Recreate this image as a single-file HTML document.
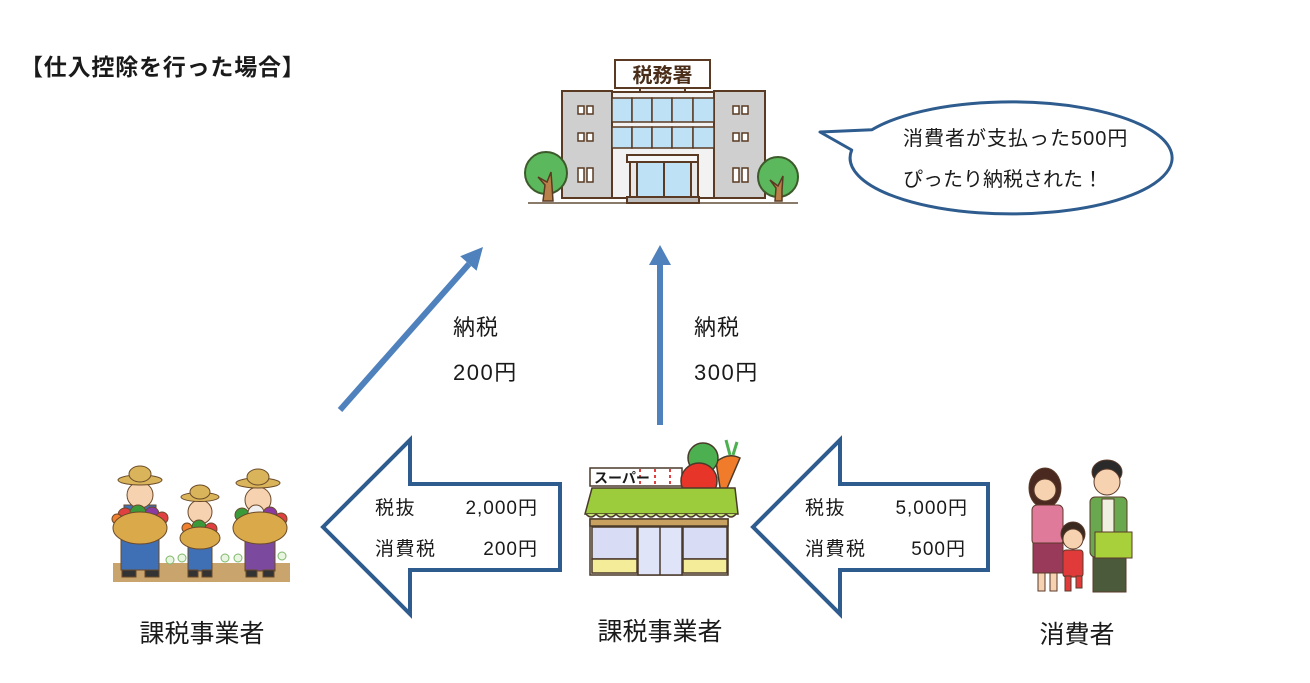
<!DOCTYPE html>
<html><head><meta charset="utf-8">
<style>
html,body{margin:0;padding:0;background:#fff;}
svg{display:block;}
text{font-family:"Liberation Sans","Noto Sans CJK JP",sans-serif;fill:#1a1a1a;}
</style></head>
<body>
<svg width="1310" height="683" viewBox="0 0 1310 683" xmlns="http://www.w3.org/2000/svg">
<rect width="1310" height="683" fill="#fff"/>

<!-- Title -->
<text x="20" y="75" font-size="23" font-weight="bold" letter-spacing="0.8">【仕入控除を行った場合】</text>

<!-- ===== Tax office ===== -->
<g stroke="#5a3a22" stroke-width="2">
  <line x1="528" y1="203" x2="798" y2="203" stroke="#8a7a6a"/>
  <!-- sign -->
  <rect x="615" y="60" width="95" height="28" fill="#fff"/>
  <rect x="640" y="88" width="45" height="4" fill="#eee"/>
  <!-- towers -->
  <rect x="562" y="91" width="50" height="107" fill="#cfcfcf"/>
  <rect x="714" y="91" width="51" height="107" fill="#cfcfcf"/>
  <!-- center -->
  <rect x="612" y="92" width="102" height="106" fill="#f2f2f2"/>
  <g fill="#bfe1f6" stroke-width="1.5">
    <rect x="612" y="98" width="20" height="24"/><rect x="632" y="98" width="20" height="24"/><rect x="652" y="98" width="20" height="24"/><rect x="672" y="98" width="21" height="24"/><rect x="693" y="98" width="21" height="24"/>
    <rect x="612" y="127" width="20" height="21"/><rect x="632" y="127" width="20" height="21"/><rect x="652" y="127" width="20" height="21"/><rect x="672" y="127" width="21" height="21"/><rect x="693" y="127" width="21" height="21"/>
  </g>
  <rect x="627" y="155" width="71" height="7" fill="#f7f7f7"/>
  <rect x="630" y="162" width="7" height="35" fill="#e8e8e8"/>
  <rect x="691" y="162" width="7" height="35" fill="#e8e8e8"/>
  <rect x="637" y="162" width="54" height="35" fill="#bfe1f6"/>
  <line x1="664" y1="162" x2="664" y2="197"/>
  <rect x="627" y="197" width="72" height="6" fill="#bdbdbd"/>
  <!-- tower windows -->
  <g fill="#fff" stroke-width="1.5">
    <rect x="578" y="106" width="6" height="8"/><rect x="587" y="106" width="6" height="8"/>
    <rect x="578" y="133" width="6" height="8"/><rect x="587" y="133" width="6" height="8"/>
    <rect x="578" y="168" width="6" height="14"/><rect x="587" y="168" width="6" height="14"/>
    <rect x="733" y="106" width="6" height="8"/><rect x="742" y="106" width="6" height="8"/>
    <rect x="733" y="133" width="6" height="8"/><rect x="742" y="133" width="6" height="8"/>
    <rect x="733" y="168" width="6" height="14"/><rect x="742" y="168" width="6" height="14"/>
  </g>
  <!-- trees (in front) -->
  <circle cx="546" cy="173" r="21" fill="#5cb85c" stroke="#3d5a2a"/>
  <path d="M543 201 L545 185 L538 177 L547 182 L551 172 L552 186 L553 201 Z" fill="#b9804a" stroke-width="1.5"/>
  <circle cx="778" cy="177" r="20" fill="#5cb85c" stroke="#3d5a2a"/>
  <path d="M775 201 L776 188 L770 180 L778 186 L783 176 L782 190 L782 201 Z" fill="#b9804a" stroke-width="1.5"/>
</g>
<text x="662.5" y="82" font-size="20" font-weight="bold" text-anchor="middle" style="fill:#4a2e1a">税務署</text>

<!-- ===== Speech bubble ===== -->
<path d="M872 129.7 A161 56 0 1 1 851.7 150 L820 132 Z" fill="#fff" stroke="#2e5c8e" stroke-width="3" stroke-linejoin="round"/>
<text x="903" y="145" font-size="20" letter-spacing="1">消費者が支払った500円</text>
<text x="903" y="186" font-size="20">ぴったり納税された！</text>

<!-- ===== Blue arrows ===== -->
<line x1="340" y1="410" x2="469" y2="264" stroke="#4f81bd" stroke-width="6"/>
<polygon points="483,247 476.6,270.8 460.2,256.2" fill="#4f81bd"/>
<line x1="660" y1="425" x2="660" y2="262" stroke="#4f81bd" stroke-width="6"/>
<polygon points="660,245 671,265 649,265" fill="#4f81bd"/>

<text x="453" y="335" font-size="22" letter-spacing="1">納税</text>
<text x="453" y="380" font-size="22" letter-spacing="1.5">200円</text>
<text x="694" y="335" font-size="22" letter-spacing="1">納税</text>
<text x="694" y="380" font-size="22" letter-spacing="1.5">300円</text>

<!-- ===== Hollow arrows ===== -->
<polygon points="323,527 410,440 410,484 560,484 560,570 410,570 410,614" fill="#fff" stroke="#2e5c8e" stroke-width="4"/>
<polygon points="753,527 840,440 840,484 988,484 988,570 840,570 840,614" fill="#fff" stroke="#2e5c8e" stroke-width="4"/>

<text x="375" y="514" font-size="19" letter-spacing="1.5">税抜</text>
<text x="538" y="514" font-size="19" letter-spacing="1" text-anchor="end">2,000円</text>
<text x="375" y="555" font-size="19" letter-spacing="1.5">消費税</text>
<text x="538" y="555" font-size="19" letter-spacing="1" text-anchor="end">200円</text>

<text x="805" y="514" font-size="19" letter-spacing="1.5">税抜</text>
<text x="968" y="514" font-size="19" letter-spacing="1" text-anchor="end">5,000円</text>
<text x="805" y="555" font-size="19" letter-spacing="1.5">消費税</text>
<text x="966" y="555" font-size="19" letter-spacing="1" text-anchor="end">500円</text>

<!-- ===== Farmers ===== -->
<g stroke="#6a4a2a" stroke-width="1">
  <rect x="113" y="563" width="177" height="19" fill="#c9a46c" stroke="none"/>
  <g fill="#e9f5e0" stroke="#7cb86a">
    <circle cx="170" cy="560" r="4"/><circle cx="182" cy="558" r="4"/><circle cx="225" cy="558" r="4"/><circle cx="238" cy="558" r="4"/><circle cx="282" cy="556" r="4"/>
  </g>
  <!-- farmer 1 -->
  <rect x="121" y="540" width="38" height="30" fill="#3f6fb5"/>
  <rect x="122" y="570" width="14" height="7" fill="#333"/><rect x="145" y="570" width="14" height="7" fill="#333"/>
  <rect x="124" y="505" width="32" height="12" fill="#3f6fb5"/>
  <circle cx="140" cy="495" r="13" fill="#f7d2b0"/>
  <ellipse cx="140" cy="480" rx="22" ry="5" fill="#d9b45a"/>
  <ellipse cx="140" cy="474" rx="11" ry="8" fill="#d9b45a"/>
  <circle cx="125" cy="515" r="7" fill="#e04040"/><circle cx="138" cy="513" r="8" fill="#3a9a3a"/><circle cx="152" cy="514" r="7" fill="#8a3aa0"/><circle cx="162" cy="518" r="6" fill="#e04040"/><circle cx="117" cy="519" r="5" fill="#f08030"/>
  <ellipse cx="140" cy="528" rx="27" ry="16" fill="#d9a94a"/>
  <!-- farmer 2 -->
  <rect x="188" y="545" width="24" height="26" fill="#3f6fb5"/>
  <rect x="188" y="570" width="10" height="7" fill="#333"/><rect x="202" y="570" width="10" height="7" fill="#333"/>
  <circle cx="200" cy="512" r="12" fill="#f7d2b0"/>
  <ellipse cx="200" cy="497" rx="19" ry="4.5" fill="#d9b45a"/>
  <ellipse cx="200" cy="492" rx="10" ry="7" fill="#d9b45a"/>
  <circle cx="187" cy="528" r="5" fill="#f08030"/><circle cx="199" cy="527" r="7" fill="#3a9a3a"/><circle cx="211" cy="529" r="6" fill="#e04040"/>
  <ellipse cx="200" cy="538" rx="20" ry="11" fill="#d9a94a"/>
  <!-- farmer 3 -->
  <rect x="245" y="540" width="30" height="31" fill="#7b4a9e"/>
  <rect x="246" y="570" width="11" height="7" fill="#333"/><rect x="263" y="570" width="11" height="7" fill="#333"/>
  <circle cx="258" cy="500" r="13" fill="#f7d2b0"/>
  <ellipse cx="258" cy="483" rx="22" ry="5" fill="#d9b45a"/>
  <ellipse cx="258" cy="477" rx="11" ry="8" fill="#d9b45a"/>
  <circle cx="242" cy="515" r="7" fill="#3a9a3a"/><circle cx="256" cy="513" r="8" fill="#f0f0f0"/><circle cx="270" cy="514" r="7" fill="#8a3aa0"/><circle cx="281" cy="519" r="6" fill="#e04040"/>
  <ellipse cx="260" cy="528" rx="27" ry="16" fill="#d9a94a"/>
</g>
<text x="202" y="642" font-size="25" text-anchor="middle">課税事業者</text>

<!-- ===== Supermarket ===== -->
<g stroke="#4a3a2a" stroke-width="1.5">
  <path d="M722 500 L716 462 Q728 452 740 458 Z" fill="#f07b2a"/>
  <path d="M730 455 L726 440 M733 455 L737 442" stroke="#4caf50" stroke-width="3"/>
  <circle cx="703" cy="458" r="15" fill="#4caf50"/>
  <rect x="590" y="468" width="92" height="18" fill="#fff"/>
  <g stroke="#e04040" stroke-width="2" stroke-dasharray="3 3">
    <line x1="640" y1="469" x2="640" y2="485"/><line x1="655" y1="469" x2="655" y2="485"/><line x1="670" y1="469" x2="670" y2="485"/>
  </g>
  <circle cx="699" cy="481" r="18" fill="#e8352a"/>
  <path d="M592 488 L735 488 L738 514 L585 514 Z" fill="#9ccc3c"/>
  <path d="M586 514 q5 6 10 0 q5 6 10 0 q5 6 10 0 q5 6 10 0 q5 6 10 0 q5 6 10 0 q5 6 10 0 q5 6 10 0 q5 6 10 0 q5 6 10 0 q5 6 10 0 q5 6 10 0 q5 6 10 0 q5 6 10 0 q5 6 10 0" fill="#c5e17a"/>
  <rect x="590" y="519" width="138" height="56" fill="#f5efe2"/>
  <rect x="590" y="519" width="138" height="7" fill="#c8a060"/>
  <rect x="592" y="527" width="45" height="32" fill="#d8dcf5"/>
  <rect x="683" y="527" width="44" height="32" fill="#d8dcf5"/>
  <rect x="592" y="559" width="45" height="14" fill="#f5ec9a"/>
  <rect x="683" y="559" width="44" height="14" fill="#f5ec9a"/>
  <rect x="638" y="527" width="44" height="48" fill="#e0e4f8"/>
  <line x1="660" y1="527" x2="660" y2="575"/>
</g>
<text x="594" y="483" font-size="14" font-weight="bold">スーパー</text>
<text x="660" y="640" font-size="25" text-anchor="middle">課税事業者</text>

<!-- ===== Family ===== -->
<g stroke="#5a3a2a" stroke-width="1">
  <!-- woman -->
  <ellipse cx="1045" cy="488" rx="16" ry="20" fill="#4a2a20"/>
  <circle cx="1045" cy="490" r="11" fill="#f7d2b0"/>
  <rect x="1032" y="505" width="31" height="40" rx="5" fill="#e07a9a"/>
  <rect x="1033" y="543" width="30" height="30" fill="#9a3a5a"/>
  <rect x="1038" y="573" width="7" height="18" fill="#f7d2b0"/><rect x="1050" y="573" width="7" height="18" fill="#f7d2b0"/>
  <!-- man -->
  <rect x="1093" y="555" width="33" height="37" fill="#4a5a3a"/>
  <rect x="1090" y="497" width="37" height="60" rx="5" fill="#6aa84f"/>
  <rect x="1102" y="499" width="12" height="35" fill="#f0f0e0"/>
  <ellipse cx="1107" cy="472" rx="15" ry="12" fill="#2a2a2a"/>
  <circle cx="1107" cy="482" r="13" fill="#f7d2b0"/>
  <rect x="1095" y="532" width="37" height="26" fill="#a8d03a"/>
  <!-- child -->
  <ellipse cx="1073" cy="534" rx="12" ry="12" fill="#3a2a20"/>
  <circle cx="1073" cy="539" r="10" fill="#f7d2b0"/>
  <rect x="1063" y="550" width="20" height="27" rx="3" fill="#e03a3a"/>
  <rect x="1065" y="576" width="6" height="15" fill="#e03a3a"/><rect x="1076" y="576" width="6" height="12" fill="#e03a3a"/>
</g>
<text x="1077" y="643" font-size="25" text-anchor="middle">消費者</text>
</svg>
</body></html>
